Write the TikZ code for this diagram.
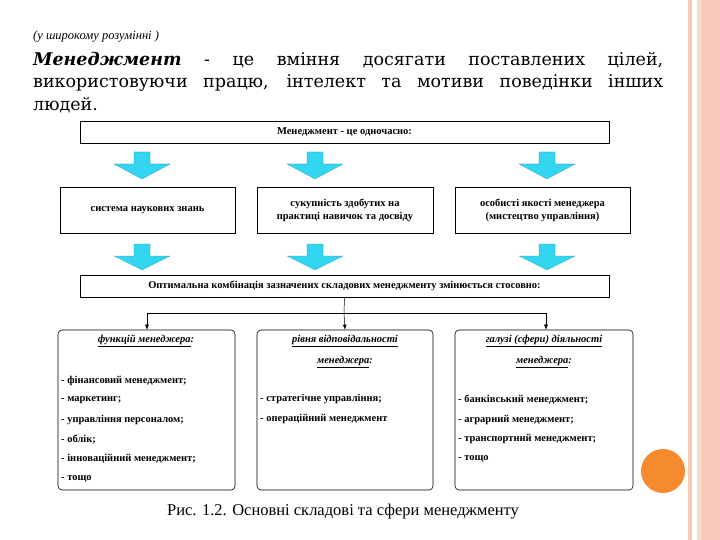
\documentclass[tikz,border=0pt]{standalone}
\usepackage{fontspec}
\setmainfont{Liberation Serif}
\newfontfamily\wide{DejaVu Serif}
\usetikzlibrary{arrows.meta}
\definecolor{cy}{HTML}{33D6F0}
\definecolor{pk}{HTML}{F8C9B8}
\definecolor{og}{HTML}{F58A2E}
\begin{document}
\begin{tikzpicture}[x=1pt,y=-1pt,
  sq/.style={draw,line width=0.6pt,font=\bfseries\fontsize{10.5}{13}\selectfont,align=center,inner sep=0pt},
  rb/.style={draw,line width=0.6pt,rounded corners=4pt},
  big/.style={fill=cy,draw=cy!70!black,line width=0.2pt},
  itm/.style={anchor=west,font=\bfseries\fontsize{10.5}{12}\selectfont,inner sep=0pt},
  hd/.style={font=\bfseries\itshape\fontsize{10.5}{12}\selectfont,inner sep=0pt},
  ln/.style={line width=0.5pt},
  tip/.style={-{Latex[length=5pt,width=4pt]}}]
\useasboundingbox (0,0) rectangle (720,540);
\fill[white] (0,0) rectangle (720,540);
\fill[pk] (688,0) rectangle (692,540);
\fill[pk!70] (697,0) rectangle (702,540);
\fill[pk] (702,0) rectangle (720,540);
\node[anchor=west,inner sep=0pt,font=\itshape\fontsize{12.5}{13}\selectfont] (t0) at (33,37) {(у широкому розумінні )};
\node[anchor=north west,inner sep=0pt,text width=630pt,align=justify,font=\wide\fontsize{17.5}{22.5}\selectfont] (t1) at (33,52)
 {\textbf{\textit{Менеджмент}} - це вміння досягати поставлених цілей,\linebreak використовуючи працю, інтелект та мотиви поведінки інших\linebreak людей.};
\node[sq,minimum width=529pt,minimum height=22pt] (top) at (344.5,132) {Менеджмент - це одночасно:};
\node[sq,minimum width=175pt,minimum height=46pt] (m1) at (147.5,210) {система наукових знань};
\node[sq,minimum width=176pt,minimum height=46pt] (m2) at (345,210) {сукупність здобутих на\\практиці навичок та досвіду};
\node[sq,minimum width=175pt,minimum height=46pt] (m3) at (542.5,210) {особисті якості менеджера\\(мистецтво управління)};
\node[sq,minimum width=529pt,minimum height=22pt] (bot) at (344.5,286) {Оптимальна комбінація зазначених складових менеджменту змінюється стосовно:};
\foreach \x in {142,315,547}{
 \draw[big] (\x-8,152)--(\x+8,152)--(\x+8,164)--(\x+28,164)--(\x,179)--(\x-28,164)--(\x-8,164)--cycle;
 \draw[big] (\x-8,244)--(\x+8,244)--(\x+8,256)--(\x+28,256)--(\x,270)--(\x-28,256)--(\x-8,256)--cycle;
}
\node[rb,minimum width=177pt,minimum height=160pt] (b1) at (146.5,410) {};
\node[rb,minimum width=176pt,minimum height=160pt] (b2) at (345,410) {};
\node[rb,minimum width=178pt,minimum height=160pt] (b3) at (544,410) {};
\coordinate (j) at (344,313);
\coordinate (jl) at (147,313);
\coordinate (jr) at (546,313);
\draw[ln] (bot.south) -- (j);
\draw[ln] (jl) -- (jr);
\draw[ln,tip] (jl) -- (jl |- b1.north);
\draw[ln,tip] (j) -- (b2.north);
\draw[ln,tip] (jr) -- (jr |- b3.north);
\node[hd] (h1) at (146,341) {\underline{функцій менеджера}:};
\node[hd] (h2a) at (345,341) {\underline{рівня відповідальності}};
\node[hd] (h2b) at (345,362) {\underline{менеджера}:};
\node[hd] (h3a) at (544,341) {\underline{галузі (сфери) діяльності}};
\node[hd] (h3b) at (544,362) {\underline{менеджера}:};
\foreach \t [count=\i] in {- фінансовий менеджмент;,- маркетинг;,- управління персоналом;,- облік;,- інноваційний менеджмент;,- тощо}
 \node[itm] (a\i) at (61,361+19.6*\i) {\t};
\node[itm] (c1) at (260,399) {- стратегічне управління;};
\node[itm] (c2) at (260,419) {- операційний менеджмент};
\foreach \t [count=\i] in {- банківський менеджмент;,- аграрний менеджмент;,- транспортний менеджмент;,- тощо}
 \node[itm] (d\i) at (458,380+19.8*\i) {\t};
\node[font=\fontsize{16.5}{18}\selectfont,inner sep=0pt] (cap) at (343,512) {Рис. 1.2. Основні складові та сфери менеджменту};
\fill[og] (663,471) circle (22);
\end{tikzpicture}
\end{document}
